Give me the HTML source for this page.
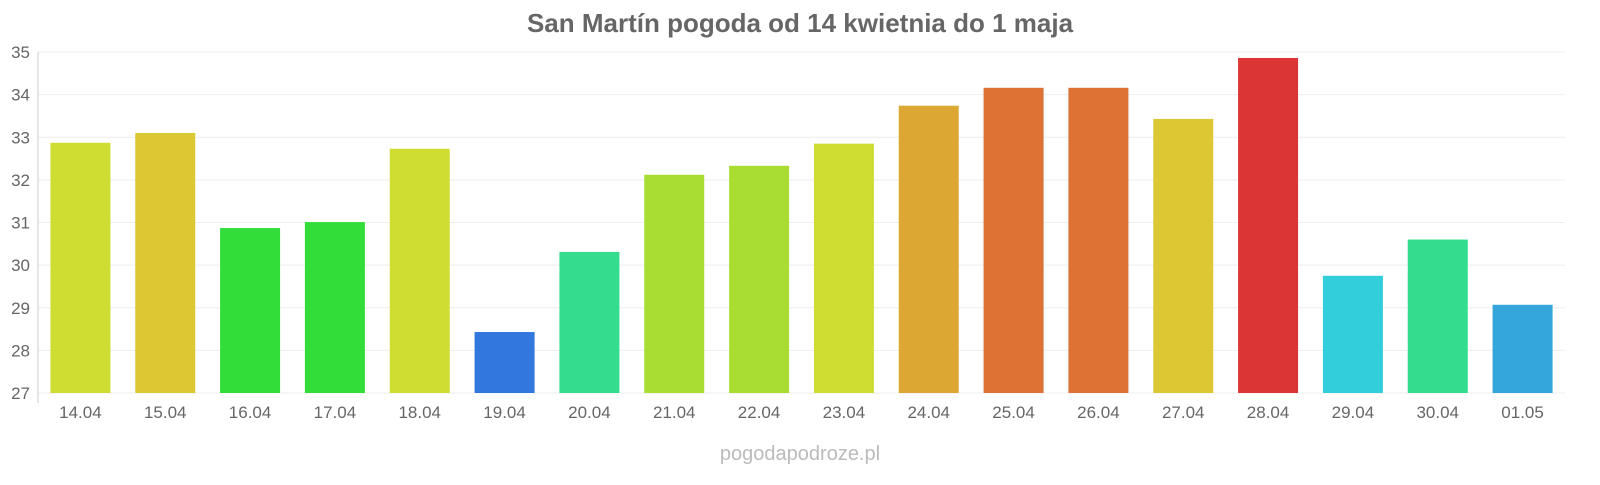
<!DOCTYPE html>
<html><head><meta charset="utf-8"><style>
body{margin:0;background:#fff;width:1600px;height:480px;overflow:hidden;font-family:"Liberation Sans",sans-serif}
</style></head><body>
<svg id="c" width="1600" height="480">
<text x="800" y="32" text-anchor="middle" font-size="26" font-weight="bold" fill="#666">San Martín pogoda od 14 kwietnia do 1 maja</text>
<text x="800" y="460" text-anchor="middle" font-size="20" fill="#bbb">pogodapodroze.pl</text>
</svg>
<script>
const categories=["14.04","15.04","16.04","17.04","18.04","19.04","20.04","21.04","22.04","23.04","24.04","25.04","26.04","27.04","28.04","29.04","30.04","01.05"];
const values=[32.87,33.1,30.87,31.01,32.73,28.43,30.31,32.12,32.33,32.85,33.74,34.16,34.16,33.43,34.86,29.75,30.6,29.07];
const colors=["#cfdd33","#dcc833","#32dd3a","#32dd3a","#cfdd33","#3277dd","#34dd8d","#a9dd32","#a9dd32","#cfdd33","#dca833","#dc7233","#dc7233","#dcc833","#dc3535","#32cedc","#34dd8d","#34a6dc"];
const ticks=[27,28,29,30,31,32,33,34,35];
const NS="http://www.w3.org/2000/svg",svg=document.getElementById('c');
const x0=38,x1=1565,yTop=52,yBot=393,vmin=27,vmax=35;
const slot=(x1-x0)/categories.length;
const y=v=>yBot-(v-vmin)/(vmax-vmin)*(yBot-yTop);
const xc=i=>x0+slot*(i+0.5);
function mk(t,a){const e=document.createElementNS(NS,t);for(const k in a)e.setAttribute(k,a[k]);svg.appendChild(e);return e;}
ticks.forEach(t=>{
 const l=mk('line',{x1:x0,x2:x1,y1:y(t),y2:y(t),stroke:'#eee','stroke-width':1});
 
 
 const tx=mk('text',{x:30,y:y(t)+6,'text-anchor':'end','font-size':17,fill:'#666'});
 tx.textContent=t;
 
 
});
const ax=mk('line',{x1:x0,x2:x0,y1:yTop,y2:yBot+10,stroke:'#ccc'});


categories.forEach((c,i)=>{
 const b=mk('rect',{x:xc(i)-30,y:y(values[i]),width:60,height:yBot-y(values[i]),fill:colors[i]});
 
 
 const tx=mk('text',{x:xc(i),y:418,'text-anchor':'middle','font-size':17,fill:'#666'});
 tx.textContent=c;
 
 
});
</script>
</body></html>
